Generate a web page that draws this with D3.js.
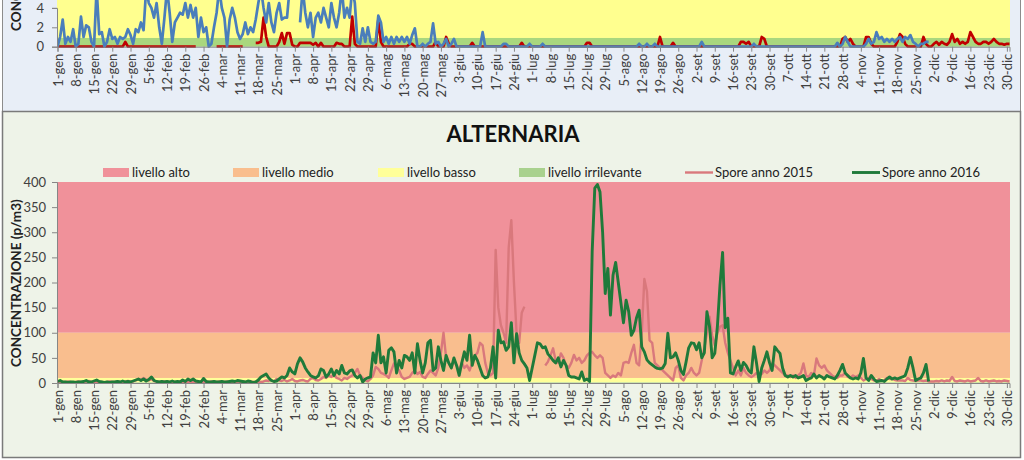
<!DOCTYPE html>
<html><head><meta charset="utf-8">
<script src="https://cdn.jsdelivr.net/npm/d3@7"></script>
<style>
body{margin:0;background:#fff}
svg{display:block}
text{font-family:Lato,"Open Sans",sans-serif}
</style>
</head><body>
<svg id="c" width="1024" height="460"></svg>
<script>
// ---------------- DATA ----------------
const tickLabels = ["1-gen","8-gen","15-gen","22-gen","29-gen","5-feb","12-feb","19-feb","26-feb","4-mar","11-mar","18-mar","25-mar","1-apr","8-apr","15-apr","22-apr","29-apr","6-mag","13-mag","20-mag","27-mag","3-giu","10-giu","17-giu","24-giu","1-lug","8-lug","15-lug","22-lug","29-lug","5-ago","12-ago","19-ago","26-ago","2-set","9-set","16-set","23-set","30-set","7-ott","14-ott","21-ott","28-ott","4-nov","11-nov","18-nov","25-nov","2-dic","9-dic","16-dic","23-dic","30-dic"];

// top panel (partially visible): blue series and red series, daily values (p/m3)
const topBlue = [
0,1.0,2.8,0.3,1.0,0.5,1.8,0,0.3,3.1,
1.0,2.2,2.0,0.5,0,6,1.3,1.5,0,0.5,
1.8,0.8,1.0,0.3,1.0,0.8,1.0,1.8,1.2,0.3,
1.8,1.5,2.5,1.7,6,4.5,4.0,3.0,4.5,2.0,
0.3,3.0,6,3.5,0.5,2.5,3.0,3.5,3.3,4.5,
3.0,4.3,3.0,4.0,1.0,3.0,1.5,2.0,0,0.3,
2.0,3.5,6,4.0,3.0,0,2.8,4.0,3.0,1.5,
0.8,1.3,2.5,1.3,2.0,1.5,2.8,4.5,6,4.0,
2.5,4.5,2.5,1.5,3.5,4.5,2.8,3.0,3.0,6,
null,null,null,2.5,6,3.5,2.0,3.5,1.0,3.0,
3.5,2.5,4.0,3.0,2.0,4.5,3.0,2.0,3.5,6,
3.0,4.0,3.0,6,4.5,0.5,0.3,1.9,0.5,2.0,
0.5,0.3,0.5,3.2,2.5,0.5,1.0,0.3,1.0,0.3,
1.0,0.5,1.0,0.5,1.0,0.3,1.2,1.9,0,0,
0.3,0,0.3,0.5,2.4,0.3,0.5,0,0.3,0.8,
0,0.3,0.8,0,0,0,0,0,0,0,
0,0,0,1.5,0,0,0,0,0,0,
0,0.3,0.3,0,0,0,0,0,0,0,
0,0.3,0,0,0,0,0.3,0,0,0,
0,0,0,0,0,0,0,0,0,0,
0,0,0,0,0,0,0,0,0,0,
0,0,0,0,0,0,0,0,0,0,
0,0,0,0.3,0,0,0.3,0,0,0.3,
0,0,0,0,0,0,0,0,0,0,
0,0,0,0,0,0,0,0.5,0,0,
0,0,0,0,0,0,0,0,0,0,
0,0,0,0,0,0,0,0.3,0,0,
0,0,0,0,0,0,0,0,0,0,
0,0,0,0,0,0,0,0,0,0,
0,0,0,0,0,0,0,0,0,0.4,
0,0.3,1.0,0.5,0,0,0,0,0,0,
0.3,0.8,0.3,0.5,1.5,0.8,1.0,0.5,0.8,0.5,
0.8,0.5,0.8,1.0,0.5,1.0,0.8,1.2,0.5,0.3,
0,0.3,0.3,0.5,0.5];

const topRed = [
0,0,0,0,0,0,0,0,0,0,
0,0,0,0,0,0,0,0,0,0,
0,0,0,0,0,0,0.5,0,0,0,
0,0,0,0,0,0,0,0,0,0,
0,0,0,0,0,0,0,0,0,0,
0,0,0,0,null,null,null,null,null,null,
null,0,0,0,0,0,0,0,0,0,
0,0,null,null,null,null,0.4,0.4,0.5,3.0,
1.0,0,0,0,0,0.5,1.4,0.3,1.4,1.4,
0.2,0,0,0.4,0.4,0.4,0.4,0.4,0.2,0.4,
0,0.4,0,0,0,0,0,0.4,0.3,0.3,
0,0,0,3.1,0.3,0,0,0,0,0,
0,0,0,2.8,0.5,0,0,0,0,0,
0,0,0,0,0,0.3,0.3,0,0,0,
0,0,0,0,0,0.5,0,0,0,1.0,
0.3,0,0,0,0,0,0,0,0,0.4,
0,0,0,0,0,0,0,0,0,0,
0,0,0,0,0,0,0,0,0.4,0,
0,0,0,0,0,0,0,0,0,0,
0,0,0,0,0,0,0,0,0,0,
0,0,0,0.4,0.4,0,0,0,0,0,
0,0,0,0,0,0,0,0,0,0,
0,0,0,0,0,0,0,0,0,0,
0,1.0,0,0,0,0,0.4,0,0,0,
0,0,0,0,0,0,0,0,0,0,
0,0,0,0,0,0,0,0,0,0,
0,0,0.5,0.5,0.3,0.5,0,0,0,0,
1.0,0.8,0,0,0,0,0,0,0,0,
0,0,0,0,0,0,0,0,0,0,
0,0,0,0,0,0,0,0,0,0,
0,0.8,1.0,0.5,0.8,0.3,0,0,0,0,
1.0,1.0,0.3,0,0,0,0,0,0,0,
0,0,0.5,1.3,1.0,0.3,0,0,0,0,
0,0,1.0,0.3,0,0,0.3,0.5,0.2,0.5,
0.3,0.2,0.5,1.3,0.5,0.8,0.3,0.5,0.3,0.5,
1.5,1.0,0.5,0.3,0.3,0.5,0.5,0.3,0.5,0.8,
0.5,0.3,0.3,0.2,0.3,0.3];
const topIrrelevantMax = 0.9;
const topYTicks = [0,2,4];

// ALTERNARIA
const title = "ALTERNARIA";
const yTitle = "CONCENTRAZIONE (p/m3)";
const levelNames = ["livello alto","livello medio","livello basso","livello irrilevante"];
const levelLow  = [100,10,1,0];
const levelHigh = [400,100,10,1];
const seriesNames = ["Spore anno 2015","Spore anno 2016"];
const yTicks = [0,50,100,150,200,250,300,350,400];

const spore2015 = [
2,3,2,2,3,2,1,2,3,2, 2,3,4,2,2,3,2,2,1,2, 3,2,2,3,2,2,3,4,3,3,
5,8,6,10,7,5,8,4,3,2, 2,3,2,2,3,2,2,3,2,2, 3,2,2,3,2,2,3,2,2,3,
2,2,3,2,2,3,2,2,3,2, 2,3,2,2,3,2,2,3,2,3, 5,4,6,3,8,5,4,6,3,5,
8,4,3,5,6,4,3,8,10,6, 5,8,12,10,15,12,18,10,8,5, 10,8,12,15,20,28,15,10,5,3,
8,15,32,28,20,18,15,10,25,39, 30,25,12,8,10,12,20,25,18,22, 12,10,18,25,20,15,30,60,100,50,
40,30,45,35,25,40,30,35,25,40, 55,60,80,75,40,20,15,20,265,150, 115,100,80,270,324,200,100,80,140,152,
null,null,null,null,null,null,null,35,42,55, 69,45,40,59,50,35,30,40,56,45, 50,40,45,55,60,62,55,50,55,50,
20,15,10,15,12,20,15,40,42,40, 60,76,40,35,100,207,182,85,80,40, 35,30,25,20,15,10,5,30,35,10,
5,15,20,30,20,15,20,45,69,100, 132,95,75,100,112,115,80,60,45,30, 15,25,15,30,20,15,12,15,20,15,
18,25,20,25,40,35,30,25,20,15, 15,12,15,10,15,20,39,15,12,20, 15,49,35,30,35,25,20,15,12,10,
15,15,20,12,10,15,12,15,10,5, 8,10,8,5,5,8,5,6,10,8, 8,6,5,5,5,4,10,6,5,4,
5,5,4,5,3,3,3,4,3,5, 3,5,4,12,4,3,5,4,3,5, 3,4,5,10,4,3,5,3,4,5,
3,4,3,5,4,3];

const spore2016 = [
3,5,2,2,1,2,2,1,2,2, 3,5,2,2,4,6,3,2,1,2, 1,2,2,3,2,4,2,3,2,4,
6,8,5,8,4,7,12,5,3,2, 3,2,3,2,4,2,3,2,6,3, 8,5,8,4,3,2,9,3,2,2,
3,2,2,3,2,2,3,4,3,5, 4,3,2,4,3,1,2,6,12,15, 18,10,5,3,4,8,12,10,15,30,
22,18,38,50,42,30,22,15,12,10, 14,28,25,12,18,28,15,25,18,35, 20,18,24,26,15,10,15,2,8,10,
12,60,40,95,40,52,20,65,70,62, 20,45,30,55,52,45,60,20,78,45, 20,40,80,85,25,30,72,45,25,55,
40,30,50,35,15,40,62,45,95,35, 55,45,30,15,10,12,30,72,10,105, 80,82,65,72,120,40,98,60,45,38,
30,5,30,55,80,78,70,72,58,52, 45,40,50,32,45,35,15,12,12,10, 8,22,5,8,3,262,388,395,380,300,
178,228,135,215,240,200,160,120,165,142, 95,105,130,145,72,62,46,40,36,32, 29,28,30,39,99,50,52,60,45,25,
17,42,70,80,79,66,80,50,60,142, 112,50,59,112,195,260,110,129,20,18, 32,44,25,41,35,25,20,72,40,3,
30,45,62,40,25,72,65,59,30,15, 12,15,12,15,10,12,15,5,8,10, 18,10,15,12,8,15,12,10,8,15,
25,37,20,15,10,8,10,8,20,49, 10,5,15,8,3,4,5,3,8,12, 8,10,8,10,12,15,30,51,30,5,
8,10,20,37,3];

// ---------------- STYLE ----------------
const C = {
  topBg:"#e8eef7", botBg:"#eef3e8", frame:"#8c8c8c",
  levels:["#f0919a","#f9be8e","#ffff99","#a9d18e"],
  topYellow:"#ffff8f", topGreen:"#a9d77e",
  blue:"#4a7ebb", red:"#c00000",
  s2015:"#d9787c", s2016:"#1f7a3a",
  text:"#404040", axis:"#868686"
};
const X0 = 57, X1 = 1010;

const svg = d3.select("#c");
const x = d3.scaleLinear().domain([0,365]).range([X0+0.5, X1-0.5]);
const tickDays = tickLabels.map((_,i)=>i*7);

// panels
svg.append("rect").attr("x",2.5).attr("y",-5).attr("width",1018).attr("height",116.5)
  .attr("fill",C.topBg).attr("stroke",C.frame);
svg.append("rect").attr("x",2.5).attr("y",111.5).attr("width",1018).attr("height",346)
  .attr("fill",C.botBg).attr("stroke","#7a7a7a").attr("stroke-width",1.5);

const defs = svg.append("defs");
defs.append("clipPath").attr("id","clipTop").append("rect")
  .attr("x",X0).attr("y",-80).attr("width",X1-X0).attr("height",128);
defs.append("clipPath").attr("id","clipBot").append("rect")
  .attr("x",X0).attr("y",180).attr("width",X1-X0).attr("height",206);

// ---------- TOP PANEL ----------
const yT = d3.scaleLinear().domain([0,4]).range([46.7, 7.9]);
const gT = svg.append("g");
gT.append("rect").attr("x",X0).attr("width",X1-X0)
  .attr("y",yT(12)).attr("height",yT(topIrrelevantMax)-yT(12)).attr("fill",C.topYellow);
gT.append("rect").attr("x",X0).attr("width",X1-X0)
  .attr("y",yT(topIrrelevantMax)).attr("height",yT(0)-yT(topIrrelevantMax)).attr("fill",C.topGreen);

const lineT = d3.line().defined(v=>v!=null).x((v,i)=>x(i)).y(v=>yT(v));
const gTl = gT.append("g").attr("clip-path","url(#clipTop)");
gTl.append("path").datum(topRed).attr("d",lineT).attr("fill","none")
  .attr("stroke",C.red).attr("stroke-width",2.7).attr("stroke-linejoin","round");
gTl.append("path").datum(topBlue).attr("d",lineT).attr("fill","none")
  .attr("stroke",C.blue).attr("stroke-width",2.7).attr("stroke-linejoin","round");

const axTY = gT.append("g").attr("transform",`translate(${X0},0)`)
  .call(d3.axisLeft(yT).tickValues(topYTicks).tickFormat(d3.format("d")).tickSize(5).tickPadding(8));
const axTX = gT.append("g").attr("transform",`translate(0,${yT(0)})`)
  .call(d3.axisBottom(x).tickValues(tickDays).tickFormat((d,i)=>tickLabels[i]).tickSize(5));
gT.append("text").attr("transform","translate(21,31) rotate(-90)")
  .attr("font-size",13.5).attr("font-weight","bold").attr("fill","#222")
  .text(yTitle);

// ---------- BOTTOM PANEL ----------
const y = d3.scaleLinear().domain([0,400]).range([383,182]);
const gB = svg.append("g");
svg.append("text").attr("x",513).attr("y",142).attr("text-anchor","middle")
  .attr("font-size",22).attr("font-weight","bold").attr("fill","#111").text(title);

levelNames.forEach((n,i)=>{
  gB.append("rect").attr("x",X0).attr("width",X1-X0)
    .attr("y",y(levelHigh[i])).attr("height",y(levelLow[i])-y(levelHigh[i]))
    .attr("fill",C.levels[i]);
});

const line = d3.line().defined(v=>v!=null).x((v,i)=>x(i)).y(v=>y(v));
const gBl = gB.append("g").attr("clip-path","url(#clipBot)");
gBl.append("path").datum(spore2015).attr("d",line).attr("fill","none")
  .attr("stroke",C.s2015).attr("stroke-width",2.4).attr("stroke-linejoin","round");
gBl.append("path").datum(spore2016).attr("d",line).attr("fill","none")
  .attr("stroke",C.s2016).attr("stroke-width",2.9).attr("stroke-linejoin","round");

const axBY = gB.append("g").attr("transform",`translate(${X0},0)`)
  .call(d3.axisLeft(y).tickValues(yTicks).tickSize(5).tickPadding(6));
const axBX = gB.append("g").attr("transform",`translate(0,${y(0)})`)
  .call(d3.axisBottom(x).tickValues(tickDays).tickFormat((d,i)=>tickLabels[i]).tickSize(5));
gB.append("text").attr("transform","translate(21,367) rotate(-90)")
  .attr("font-size",13.5).attr("font-weight","bold").attr("fill","#222")
  .text(yTitle);

// axis styling
[axTY,axTX,axBY,axBX].forEach(a=>{
  a.selectAll("path.domain").attr("stroke",C.axis);
  a.selectAll(".tick line").attr("stroke",C.axis);
  a.selectAll("text").attr("fill",C.text).attr("font-family","Lato, sans-serif");
});
[axTY,axBY].forEach(a=>a.selectAll("text").attr("font-size",13));
[axTX,axBX].forEach(a=>{
  a.selectAll("text").attr("font-size",13)
    .attr("transform","rotate(-90)").attr("text-anchor","end")
    .attr("x",-7).attr("y",0).attr("dy","0.35em");
});

// legend
const legX = [103,233,378,519];
levelNames.forEach((n,i)=>{
  svg.append("rect").attr("x",legX[i]).attr("y",168).attr("width",26).attr("height",9)
    .attr("fill",C.levels[i]);
  svg.append("text").attr("x",legX[i]+29).attr("y",177).attr("font-size",13)
    .attr("fill","#222").text(n);
});
const legLX = [685,852];
seriesNames.forEach((n,i)=>{
  svg.append("line").attr("x1",legLX[i]).attr("x2",legLX[i]+28).attr("y1",172.5).attr("y2",172.5)
    .attr("stroke",[C.s2015,C.s2016][i]).attr("stroke-width",[2.4,2.9][i]);
  svg.append("text").attr("x",legLX[i]+30).attr("y",177).attr("font-size",13)
    .attr("fill","#222").text(n);
});
</script>
</body></html>
